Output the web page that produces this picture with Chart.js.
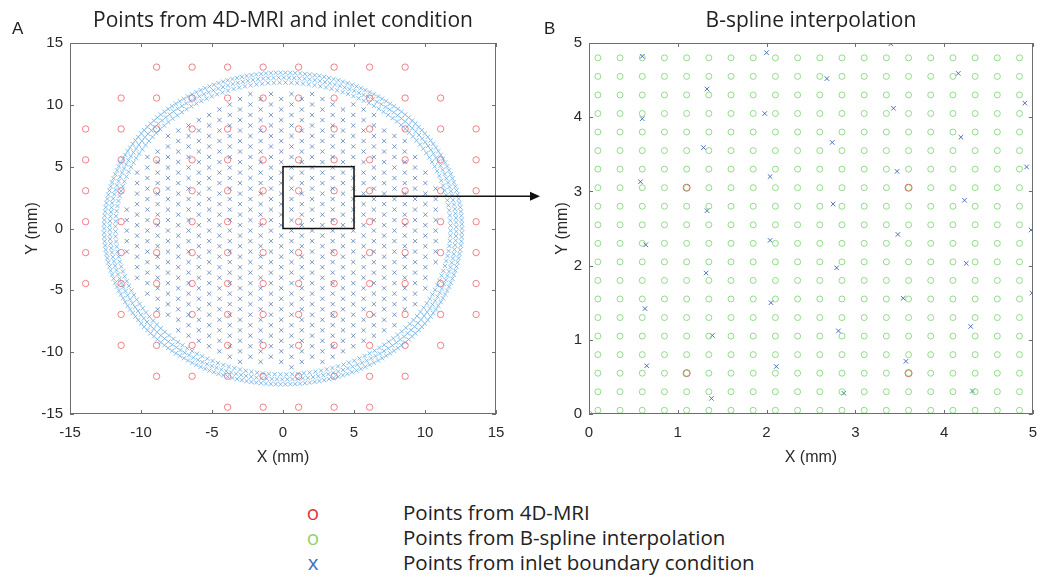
<!DOCTYPE html>
<html>
<head>
<meta charset="utf-8">
<script src="https://cdn.jsdelivr.net/npm/chart.js@4.4.0/dist/chart.umd.min.js"></script>
<style>
    body { margin: 0; background: #fff; width: 1047px; height: 584px; position: relative; overflow: hidden; }
    canvas { position: absolute; top: 0; }
    #chartA { left: 0; }
    #chartB { left: 545px; }
    .tag { position: absolute; top: 19px; font-family: 'Liberation Sans', Arial, sans-serif; font-size: 17px; color: #222; }
    .legRow { position: absolute; height: 26px; line-height: 26px; font-family: 'Open Sans', sans-serif; font-size: 20.5px; color: #222; }
    .legMark { position: absolute; left: 304px; width: 18px; text-align: center; }
    .legText { position: absolute; left: 403px; white-space: nowrap; }
</style>
</head>
<body>
<canvas id="chartA" width="545" height="475"></canvas>
<canvas id="chartB" width="502" height="475"></canvas>
<div class="tag" style="left:12px">A</div>
<div class="tag" style="left:544px">B</div>

<div class="legRow" style="top:499px"><span class="legMark" style="color:#e0343c">o</span><span class="legText">Points from 4D-MRI</span></div>
<div class="legRow" style="top:524px"><span class="legMark" style="color:#8fd46a">o</span><span class="legText">Points from B-spline interpolation</span></div>
<div class="legRow" style="top:549px"><span class="legMark" style="color:#3f6fb8">x</span><span class="legText">Points from inlet boundary condition</span></div>

<script>
// ---- 4D-MRI voxel centres (mm): grid rows, each row uses columns first..last
const mriX = [-13.9, -11.4, -8.9, -6.4, -3.9, -1.4, 1.1, 3.6, 6.1, 8.6, 11.1, 13.6]
const mriY = [13.05, 10.55, 8.05, 5.55, 3.05, 0.55, -1.95, -4.45, -6.95, -9.45, -11.95, -14.45]
const mriRowFirst = [2, 1, 0, 0, 0, 0, 0, 0, 1, 1, 2, 4]
const mriRowLast = [9, 10, 11, 11, 11, 11, 11, 11, 11, 10, 9, 8]

// ---- inlet boundary condition mesh: boundary rings
const ringRadius = [12.6, 12.2, 11.8]
const ringCount = [230, 210, 180]
// interior lattice columns / rows (mm)
const latticeColsA = [-11.0, -9.55, -8.1, -6.65, -5.2, -3.75, -2.3, -0.85, 0.6, 2.05, 3.5, 4.95, 6.4, 7.85, 9.3, 10.75]
const latticeRowsA = [-11.22, -10.37, -9.52, -8.67, -7.82, -6.97, -6.12, -5.27, -4.42, -3.57, -2.72, -1.87, -1.02, -0.17,
    0.68, 1.53, 2.38, 3.23, 4.08, 4.93, 5.78, 6.63, 7.48, 8.33, 9.18, 10.03, 10.88]
const latticeColsB = [-10.275, -8.825, -7.375, -5.925, -4.475, -3.025, -1.575, -0.125, 1.325, 2.775, 4.225, 5.675, 7.125, 8.575, 10.025, 11.475]
const latticeRowsB = [-10.78, -9.93, -9.08, -8.23, -7.38, -6.53, -5.68, -4.83, -3.98, -3.13, -2.28, -1.43, -0.58,
    0.27, 1.12, 1.97, 2.82, 3.67, 4.52, 5.37, 6.22, 7.07, 7.92, 8.77, 9.62, 10.47, 11.32]
const latticeLimit = 11.25

// ---- zoomed window (panel B)
const splineX = [0.1, 0.35, 0.6, 0.85, 1.1, 1.35, 1.6, 1.85, 2.1, 2.35, 2.6, 2.85, 3.1, 3.35, 3.6, 3.85, 4.1, 4.35, 4.6, 4.85]
const splineY = [0.05, 0.3, 0.55, 0.8, 1.05, 1.3, 1.55, 1.8, 2.05, 2.3, 2.55, 2.8, 3.05, 3.3, 3.55, 3.8, 4.05, 4.3, 4.55, 4.8]
const inletX = [0.60, 2.00, 1.33, 0.60, 1.98, 1.29, 2.04, 0.58, 1.33, 3.40, 2.68, 4.16, 4.91, 3.43, 2.74, 4.19, 4.93, 3.47, 2.75, 4.23,
    3.48, 4.98, 2.04, 0.64, 1.32, 2.05, 0.63, 1.39, 2.11, 0.65, 1.38, 2.79, 4.25, 3.54, 4.99, 2.81, 4.30, 3.57, 2.87, 4.32]
const inletY = [4.82, 4.87, 4.38, 3.98, 4.05, 3.59, 3.20, 3.13, 2.74, 4.99, 4.52, 4.59, 4.19, 4.12, 3.66, 3.73, 3.33, 3.27, 2.83, 2.88,
    2.42, 2.48, 2.34, 2.28, 1.90, 1.50, 1.42, 1.06, 0.64, 0.65, 0.21, 1.97, 2.03, 1.56, 1.63, 1.12, 1.18, 0.71, 0.28, 0.31]

const ticksA = [-15, -10, -5, 0, 5, 10, 15]
const ticksB = [0, 1, 2, 3, 4, 5]

// build point tables
let mriPts = []
mriY.forEach((y, r) => {
    for (let c = mriRowFirst[r]; c <= mriRowLast[r]; c++) mriPts.push({ x: mriX[c], y: y })
})
let ringPts = []
ringRadius.forEach((rad, i) => {
    for (let k = 0; k < ringCount[i]; k++) {
        const a = 2 * Math.PI * k / ringCount[i] + i * 0.01
        ringPts.push({ x: rad * Math.cos(a), y: rad * Math.sin(a) })
    }
})
let latticePts = []
const addLattice = (cols, rows) => cols.forEach(x => rows.forEach(y => {
    if (Math.hypot(x, y) < latticeLimit) latticePts.push({ x: x, y: y })
}))
addLattice(latticeColsA, latticeRowsA)
addLattice(latticeColsB, latticeRowsB)

let splinePts = [{ x: 0, y: 0 }]
splineX.forEach(x => splineY.forEach(y => splinePts.push({ x: x, y: y })))
const inletPts = inletX.map((x, i) => ({ x: x, y: inletY[i] }))
const mriInB = mriPts.filter(p => p.x >= 0 && p.x <= 5 && p.y >= 0 && p.y <= 5)

const tickFont = { family: "'Liberation Sans', Arial, sans-serif", size: 15 }

// frame, inward ticks, zoom box and arrow
const frame = {
    id: 'frame',
    afterDatasetsDraw(chart, args, opts) {
        const { ctx, chartArea: a, scales: { x, y } } = chart
        ctx.save()
        ctx.strokeStyle = '#6e6e6e'
        ctx.lineWidth = 1
        ctx.strokeRect(Math.round(a.left) + 0.5, Math.round(a.top) + 0.5, Math.round(a.right - a.left) - 1, Math.round(a.bottom - a.top) - 1)
        ctx.beginPath()
        x.ticks.forEach(t => {
            const px = Math.round(x.getPixelForValue(t.value)) + 0.5
            ctx.moveTo(px, a.bottom); ctx.lineTo(px, a.bottom - 4)
            ctx.moveTo(px, a.top); ctx.lineTo(px, a.top + 4)
        })
        y.ticks.forEach(t => {
            const py = Math.round(y.getPixelForValue(t.value)) + 0.5
            ctx.moveTo(a.left, py); ctx.lineTo(a.left + 4, py)
            ctx.moveTo(a.right, py); ctx.lineTo(a.right - 4, py)
        })
        ctx.stroke()
        if (opts.zoomBox) {
            const [x0, y0, x1, y1, ay] = opts.zoomBox
            const l = x.getPixelForValue(x0), r = x.getPixelForValue(x1)
            const t = y.getPixelForValue(y1), b = y.getPixelForValue(y0)
            const py = y.getPixelForValue(ay)
            ctx.strokeStyle = '#111'
            ctx.lineWidth = 1.5
            ctx.strokeRect(l, t, r - l, b - t)
            ctx.beginPath()
            ctx.moveTo(r, py); ctx.lineTo(opts.arrowTip - 8, py)
            ctx.stroke()
            ctx.fillStyle = '#111'
            ctx.beginPath()
            ctx.moveTo(opts.arrowTip, py)
            ctx.lineTo(opts.arrowTip - 10, py - 4.5)
            ctx.lineTo(opts.arrowTip - 10, py + 4.5)
            ctx.closePath()
            ctx.fill()
        }
        ctx.restore()
    }
}

function scaleOpts(axis, min, max, ticks, fit, titlePad) {
    return {
        type: 'linear', min: min, max: max,
        grid: { display: false, drawTicks: false },
        border: { display: false },
        afterBuildTicks: s => { s.ticks = ticks.map(v => ({ value: v })) },
        afterFit: s => { if (axis === 'x') s.height = fit; else s.width = fit },
        ticks: { font: tickFont, color: '#2a2a2a', padding: axis === 'x' ? 10 : 7, maxRotation: 0, autoSkip: false },
        title: {
            display: true, text: axis === 'x' ? 'X (mm)' : 'Y (mm)', color: '#2a2a2a',
            font: { family: "'Liberation Sans', Arial, sans-serif", size: 16 },
            padding: axis === 'x' ? { bottom: 8 } : { top: titlePad }
        }
    }
}

function titleOpts(text) {
    return {
        display: true, text: text, fullSize: false, color: '#222',
        font: { family: "'Open Sans', sans-serif", size: 21, weight: 'normal', lineHeight: 1.2 },
        padding: { top: 8, bottom: 9.8 }
    }
}

const circle = (data, color, r) => ({
    data: data, pointStyle: 'circle', pointRadius: r, pointBorderWidth: 1,
    pointBorderColor: color, pointBackgroundColor: 'rgba(0,0,0,0)', showLine: false
})
const cross = (data, color, r) => ({
    data: data, pointStyle: 'crossRot', pointRadius: r, pointBorderWidth: 1,
    pointBorderColor: color, pointBackgroundColor: color, showLine: false
})

new Chart(document.getElementById('chartA'), {
    type: 'scatter',
    data: {
        datasets: [
            cross(ringPts, 'rgba(90,165,225,0.75)', 3),
            cross(latticePts, 'rgba(80,120,175,0.75)', 3),
            circle(mriPts, 'rgba(232,90,98,0.75)', 3.2)
        ]
    },
    options: {
        responsive: false, animation: false, events: [],
        layout: { padding: { left: 0, right: 49, top: 0, bottom: 0 }, autoPadding: false },
        plugins: {
            legend: { display: false }, tooltip: { enabled: false },
            title: titleOpts('Points from 4D-MRI and inlet condition'),
            frame: { zoomBox: [0, 0, 5, 5, 2.6], arrowTip: 540 }
        },
        scales: {
            x: scaleOpts('x', -15, 15, ticksA, 61),
            y: scaleOpts('y', -15, 15, ticksA, 70, 23)
        }
    },
    plugins: [frame]
})

new Chart(document.getElementById('chartB'), {
    type: 'scatter',
    data: {
        datasets: [
            circle(splinePts, 'rgba(120,210,110,0.8)', 3),
            circle(mriInB, 'rgba(228,60,70,0.9)', 3.5),
            cross(inletPts, 'rgba(60,100,180,0.9)', 3.2)
        ]
    },
    options: {
        responsive: false, animation: false, events: [],
        layout: { padding: { left: 0, right: 7, top: 0, bottom: 0 }, autoPadding: false },
        plugins: {
            legend: { display: false }, tooltip: { enabled: false },
            title: titleOpts('B-spline interpolation'),
            frame: {}
        },
        scales: {
            x: scaleOpts('x', 0, 5, ticksB, 61),
            y: scaleOpts('y', 0, 5, ticksB, 44, 8)
        }
    },
    plugins: [frame]
})
</script>
</body>
</html>
